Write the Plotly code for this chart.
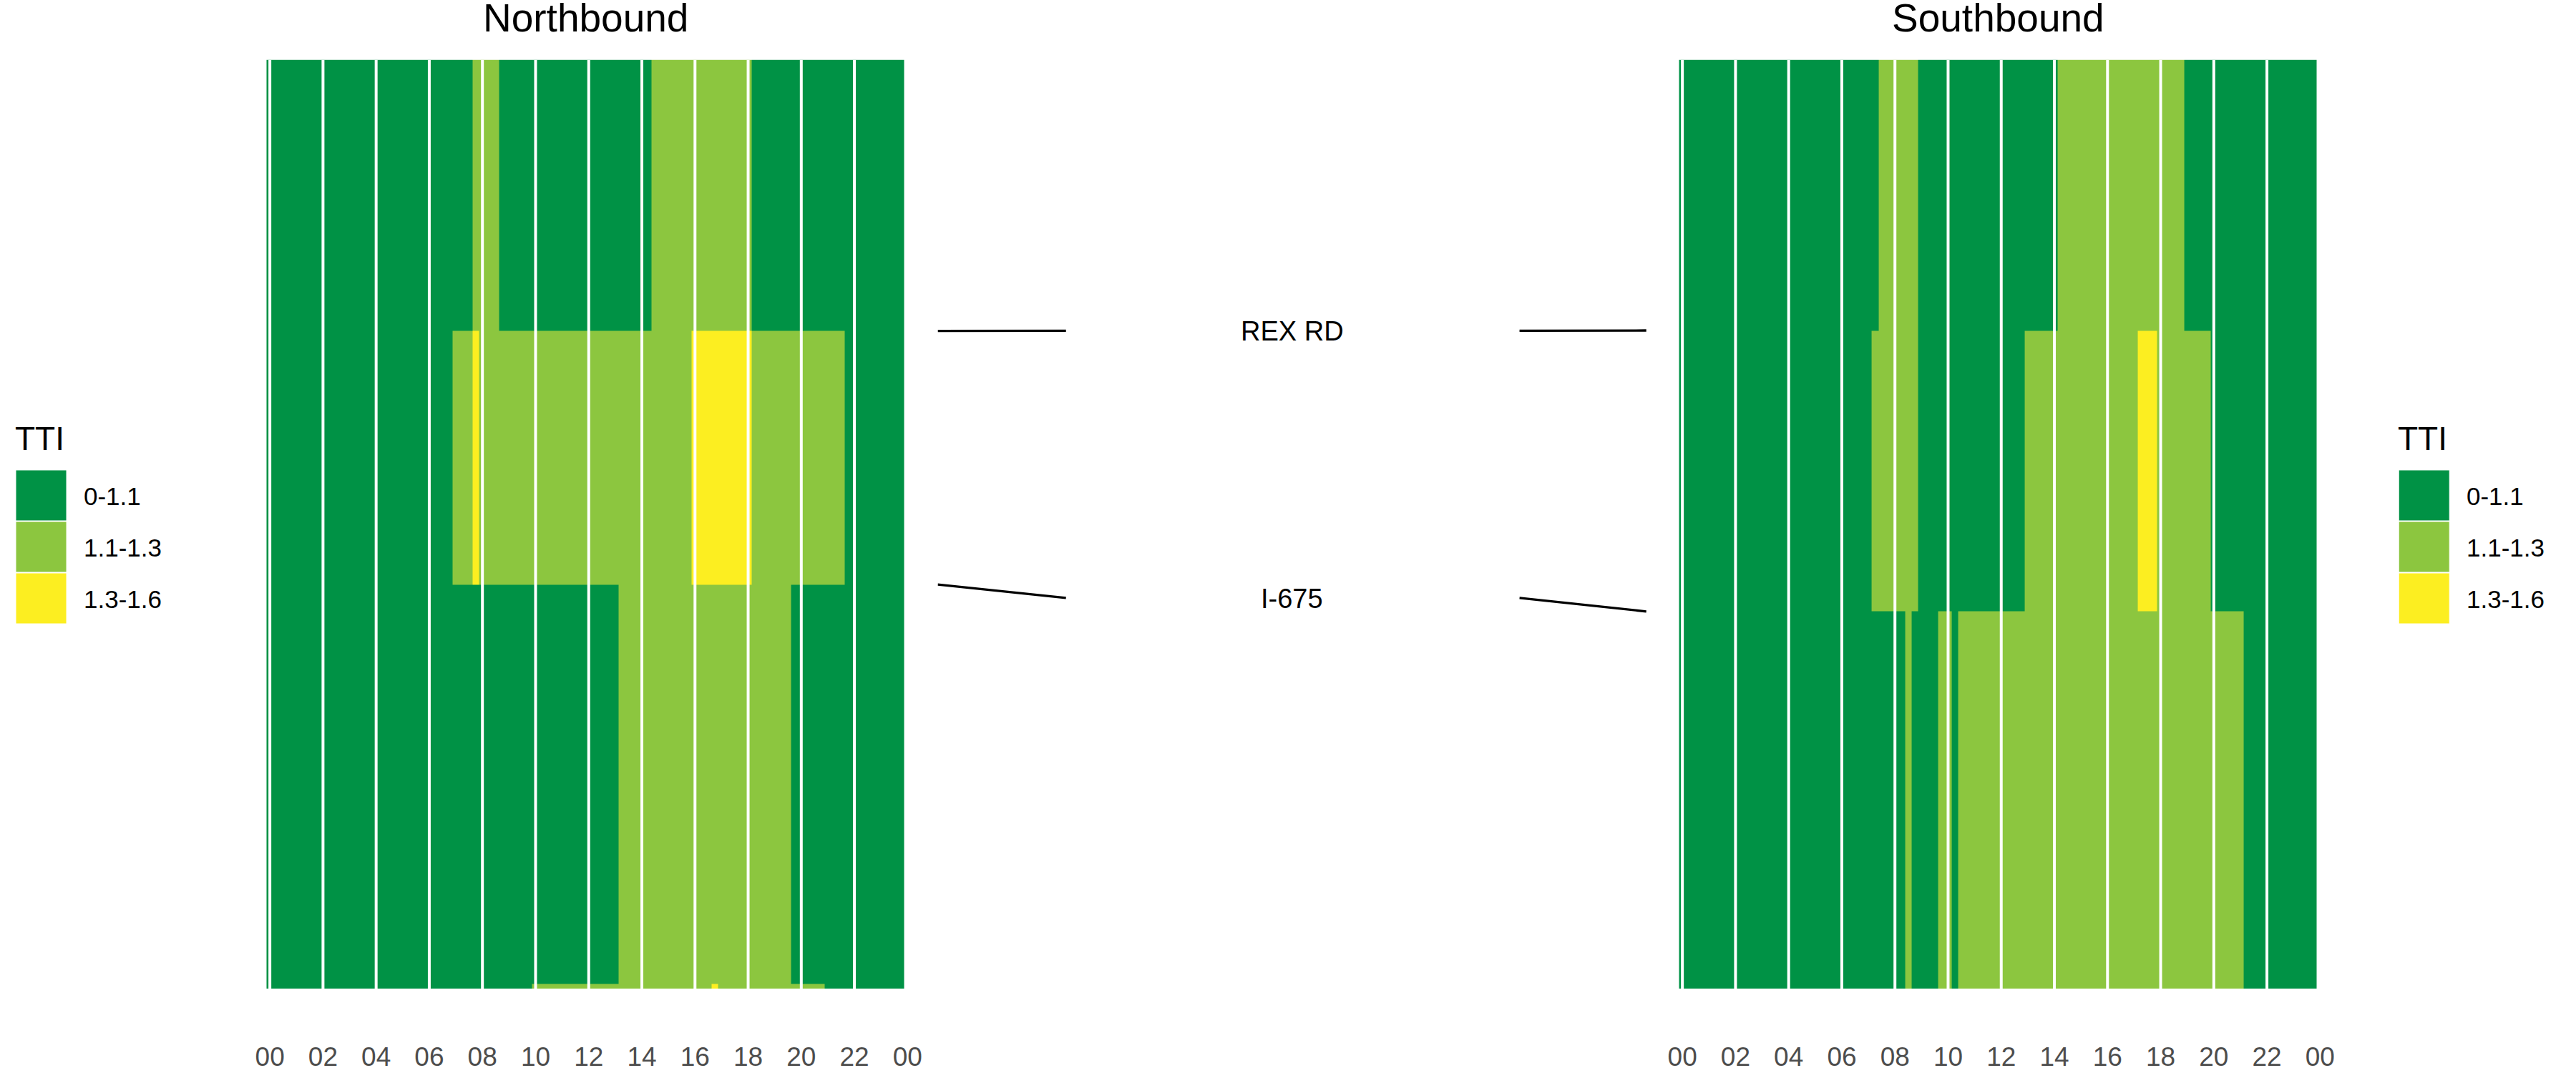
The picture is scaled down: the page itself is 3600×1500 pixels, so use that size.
import plotly.graph_objects as go

# ---------------- data ----------------
LEVELS = ["0-1.1", "1.1-1.3", "1.3-1.6"]
COLORS = ["#009245", "#8CC63F", "#FCEE21"]

# 15-minute time bins (hours), tiles centred on the bin start
BIN_HOURS = [i * 0.25 for i in range(96)]

# segment boundaries along the corridor (miles from the top of the chart)
NB_EDGES = [0.0, 2.92, 5.65, 9.95, 10.0]
SB_EDGES = [0.0, 2.915, 5.94, 10.0]

# runs of non-base TTI level per segment: (first bin, last bin, level index)
NB_RUNS = [
    [(7.75, 8.5, 1), (14.5, 18.0, 1)],
    [(7.0, 7.5, 1), (7.75, 7.75, 2), (8.0, 15.75, 1), (16.0, 18.0, 2), (18.25, 21.5, 1)],
    [(13.25, 19.5, 1)],
    [(10.0, 16.5, 1), (16.75, 16.75, 2), (17.0, 20.75, 1)],
]
SB_RUNS = [
    [(7.5, 8.75, 1), (14.25, 18.75, 1)],
    [(7.25, 8.75, 1), (13.0, 17.0, 1), (17.25, 17.75, 2), (18.0, 19.75, 1)],
    [(8.5, 8.5, 1), (9.75, 10.0, 1), (10.5, 21.0, 1)],
]

# cross streets: position on NB and SB
STREETS = ["REX RD", "I-675"]
STREET_NB = [2.92, 5.65]
STREET_SB = [2.915, 5.94]

TICK_HOURS = list(range(0, 25, 2))
TICK_TEXT = ["00", "02", "04", "06", "08", "10", "12", "14", "16", "18", "20", "22", "00"]


def expand(runs):
    rows = []
    for seg in runs:
        row = []
        for h in BIN_HOURS:
            v = 0
            for a, b, lvl in seg:
                if a - 1e-9 <= h <= b + 1e-9:
                    v = lvl
            row.append(v)
        rows.append(row)
    return rows


X_EDGES = [h - 0.125 for h in BIN_HOURS] + [BIN_HOURS[-1] + 0.125]

# ---------------- layout helpers ----------------
W, H = 3600, 1500
FONT = "Liberation Sans, Arial, sans-serif"

# horizontal calibration of the rendered page
X_OFF, X_SPAN = 14.0, 3572.7


def fx(p):
    return (p - X_OFF) / X_SPAN


def fy(p):
    return 1 - p / H


PPH = 37.12
X_RANGE = [-0.2, 24.2]
NB_ZERO = 378.0
SB_ZERO = 2351.3
Y_TOP, Y_BOT = 83.5, 1382.0
Y_DOMAIN = [fy(Y_BOT), fy(Y_TOP)]

colorscale = [[0, COLORS[0]], [0.25, COLORS[0]], [0.25, COLORS[1]], [0.75, COLORS[1]],
              [0.75, COLORS[2]], [1, COLORS[2]]]

fig = go.Figure()

fig.add_trace(go.Heatmap(x=X_EDGES, y=NB_EDGES, z=expand(NB_RUNS), zmin=0, zmax=2,
                         colorscale=colorscale, showscale=False, xaxis="x", yaxis="y",
                         hoverinfo="skip"))
fig.add_trace(go.Heatmap(x=X_EDGES, y=SB_EDGES, z=expand(SB_RUNS), zmin=0, zmax=2,
                         colorscale=colorscale, showscale=False, xaxis="x2", yaxis="y2",
                         hoverinfo="skip"))

annotations = []

# middle connector panel
for name, nb, sb in zip(STREETS, STREET_NB, STREET_SB):
    mid = (nb + sb) / 2
    fig.add_trace(go.Scatter(x=[0, 0.181], y=[nb, mid], mode="lines",
                             line=dict(color="black", width=3.3), xaxis="x3", yaxis="y3",
                             showlegend=False, hoverinfo="skip"))
    fig.add_trace(go.Scatter(x=[0.821, 1.0], y=[mid, sb], mode="lines",
                             line=dict(color="black", width=3.3), xaxis="x3", yaxis="y3",
                             showlegend=False, hoverinfo="skip"))
    annotations.append(dict(text=name, xref="x3", yref="y3", x=0.5, y=mid,
                            xanchor="center", yanchor="middle", showarrow=False, yshift=-1,
                            font=dict(family=FONT, size=38, color="black")))


def xaxis_cfg(zero):
    left = zero + X_RANGE[0] * PPH
    right = zero + X_RANGE[1] * PPH
    return dict(domain=[fx(left), fx(right)], range=X_RANGE, tickmode="array",
                tickvals=TICK_HOURS, ticktext=TICK_TEXT, showgrid=False, zeroline=False,
                showline=False, ticks="", ticklabelstandoff=70,
                tickfont=dict(family=FONT, size=37, color="#4D4D4D"), fixedrange=True)


ycfg = dict(domain=Y_DOMAIN, range=[10, 0], visible=False, showgrid=False,
            zeroline=False, fixedrange=True)

shapes = []
# white hour lines over the tiles
for xa, ya in (("x", "y"), ("x2", "y2")):
    for h in TICK_HOURS:
        shapes.append(dict(type="line", xref=xa, yref=ya, x0=h, x1=h, y0=0, y1=10,
                           line=dict(color="white", width=4), layer="above"))

# legends (left and right)
for lx in (23, 3352):
    annotations.append(dict(text="TTI", xref="paper", yref="paper", x=fx(lx - 3), y=fy(613),
                            xanchor="left", yanchor="middle", showarrow=False,
                            font=dict(family=FONT, size=46, color="black")))
    for i, lab in enumerate(LEVELS):
        top = 657 + 72 * i
        shapes.append(dict(type="rect", xref="paper", yref="paper", x0=fx(lx), x1=fx(lx + 71),
                           y0=fy(top + 71), y1=fy(top), fillcolor=COLORS[i],
                           line=dict(color="white", width=1)))
        annotations.append(dict(text=lab, xref="paper", yref="paper", x=fx(lx + 93),
                                y=fy(top + 36), xanchor="left", yanchor="middle",
                                showarrow=False,
                                font=dict(family=FONT, size=35, color="black")))

# panel titles
for title, zero in (("Northbound", NB_ZERO), ("Southbound", SB_ZERO)):
    cx = zero + 11.875 * PPH
    annotations.append(dict(text=title, xref="paper", yref="paper", x=fx(cx), y=fy(25),
                            xanchor="center", yanchor="middle", showarrow=False,
                            font=dict(family=FONT, size=55, color="black")))

fig.update_layout(
    width=W, height=H, margin=dict(l=0, r=0, t=0, b=0),
    paper_bgcolor="white", plot_bgcolor="white", showlegend=False,
    xaxis=dict(xaxis_cfg(NB_ZERO), anchor="y"), yaxis=dict(ycfg, anchor="x"),
    xaxis2=dict(xaxis_cfg(SB_ZERO), anchor="y2"), yaxis2=dict(ycfg, anchor="x2"),
    xaxis3=dict(domain=[fx(1311), fx(2301)], range=[0, 1], visible=False, fixedrange=True,
                anchor="y3"),
    yaxis3=dict(ycfg, anchor="x3"),
    shapes=shapes, annotations=annotations,
)

fig.write_html(
    "out.html",
    post_script=("document.body.style.margin='0';"
                 "document.body.style.overflow='hidden';"
                 "document.documentElement.style.overflow='hidden';"),
)
